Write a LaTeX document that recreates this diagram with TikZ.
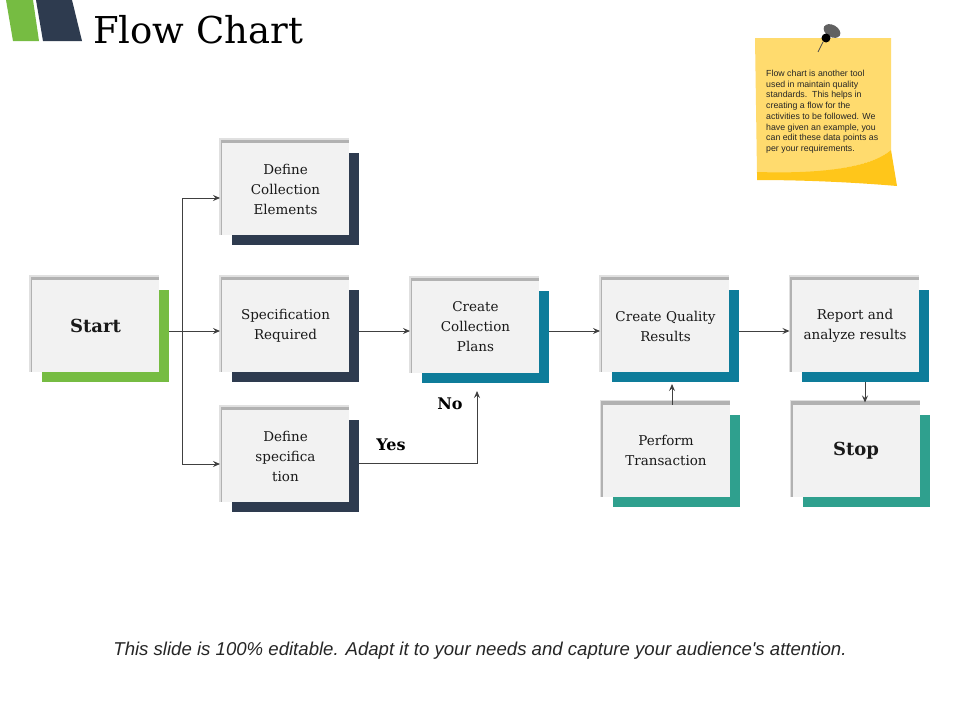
\documentclass[tikz,border=0pt]{standalone}
\usepackage{fontspec}
\setmainfont{DejaVu Serif}
\newfontfamily\sansf{Liberation Sans}
\usetikzlibrary{arrows.meta,backgrounds,calc}
\definecolor{navy}{HTML}{2E3B4F}
\definecolor{lgreen}{HTML}{76BC42}
\definecolor{tealb}{HTML}{0E7C9A}
\definecolor{seag}{HTML}{2FA08E}
\definecolor{cardbg}{HTML}{F2F2F2}
\definecolor{linec}{HTML}{404040}
\definecolor{noteY}{HTML}{FFDB6E}
\definecolor{noteD}{HTML}{FFC61A}
\begin{document}
\begin{tikzpicture}[x=1pt,y=-1pt,
 card/.style={fill=cardbg, minimum width=127pt, minimum height=92pt, inner sep=2pt, outer sep=0pt, align=center, font=\fontsize{13.5}{20}\selectfont, text=black!90},
 backcard/.style={minimum width=127pt, minimum height=92pt, inner sep=0pt, outer sep=0pt},
 conn/.style={draw=linec, line width=0.9pt},
 arr/.style={conn, -{Stealth[length=7pt,width=6pt,inset=2.5pt]}},
 lbl/.style={font=\fontsize{16}{18}\selectfont\bfseries, inner sep=0pt}]

\useasboundingbox (0,0) rectangle (960,720);

% logo
\fill[lgreen] (6,0) -- (33,0) -- (39,41) -- (13,41) -- cycle;
\fill[navy] (36,0) -- (72,0) -- (82,41) -- (43,41) -- cycle;
\node[anchor=base west, font=\fontsize{37}{40}\selectfont, inner sep=0pt] (title) at (93,43) {Flow Chart};

% cards
\node[card] (Start) at (95.5,326) {\fontsize{18}{20}\selectfont\bfseries Start};
\node[card] (DCE) at (285.5,189) {Define\\Collection\\Elements};
\node[card] (Spec) at (285.5,326) {Specification\\Required};
\node[card] (DefSpec) at (285.5,456) {Define\\specifica\\tion};
\node[card] (CCP) at (475.5,327) {Create\\Collection\\Plans};
\node[card] (CQR) at (665.5,326) {Create Quality\\Results};
\node[card] (Rep) at (855,326) {Report and\\analyze results};
\node[card] (PT) at (666,450.5) {Perform\\Transaction};
\node[card] (Stop) at (856,450.5) {\fontsize{18}{20}\selectfont\bfseries Stop};

\begin{pgfonlayer}{background}
\fill[white] (0,0) rectangle (960,720);
\foreach \n/\c in {Start/lgreen, DCE/navy, Spec/navy, DefSpec/navy, CCP/tealb, CQR/tealb, Rep/tealb, PT/seag, Stop/seag}{
  \node[backcard, fill=\c] (\n-b) at ([xshift=10pt,yshift=-10pt]\n.center) {};
  \fill[black!12] ([xshift=-3pt]\n.south west) rectangle ([yshift=5pt]\n.north east);
  \fill[black!30] ([xshift=-1.5pt]\n.south west) rectangle ([yshift=3.5pt]\n.north east);
}
\end{pgfonlayer}

% connectors
\coordinate (trunk) at (182,331);
\draw[conn] ([yshift=5pt]Start-b.east) -- (trunk);
\coordinate (dceIn) at ([yshift=-9pt]DCE.west);
\coordinate (specIn) at ([yshift=-5pt]Spec.west);
\coordinate (dsIn) at ([yshift=-8pt]DefSpec.west);
\draw[conn] (trunk |- dceIn) -- (trunk |- dsIn);
\draw[arr, shorten >=2pt] (trunk |- dceIn) -- (dceIn);
\draw[arr, shorten >=2pt] (trunk) -- (specIn);
\draw[arr, shorten >=2pt] (trunk |- dsIn) -- (dsIn);

\coordinate (s1) at ([yshift=5pt]Spec-b.east);
\draw[arr, shorten >=2pt] (s1) -- (s1 -| CCP.west);
\coordinate (c1) at ([yshift=6pt]CCP-b.east);
\draw[arr, shorten >=2pt] (c1) -- (c1 -| CQR.west);
\coordinate (q1) at ([yshift=5pt]CQR-b.east);
\draw[arr, shorten >=2pt] (q1) -- (q1 -| Rep.west);

\coordinate (y1) at ([yshift=3pt]DefSpec-b.east);
\coordinate (ccpx) at ([xshift=1.5pt]CCP.south);
\draw[arr, shorten >=8pt] (y1) -| (ccpx |- CCP-b.south);

\coordinate (pt1) at ([xshift=6pt]PT.north);
\draw[arr, shorten >=2pt] (pt1) -- (pt1 |- CQR-b.south);
\draw[arr, shorten >=2pt] (Rep-b.south) -- (Rep-b.south |- Stop.north);

\node[lbl] (no) at (450,404) {No};
\node[lbl] (yes) at (391,445) {Yes};

% sticky note
\fill[noteY] (755,38) -- (891,38) -- (891,150) .. controls (870,168) and (820,174) .. (757,174) -- cycle;
\fill[noteD] (757,172) .. controls (820,174) and (870,168) .. (891,150) -- (897,186) .. controls (850,182) and (800,180) .. (757,180) -- cycle;
\node[anchor=north west, align=left, inner sep=0pt, text=black!85, font=\sansf\fontsize{8.8}{10.7}\selectfont] (note) at (766,70) {Flow chart is another tool\\used in maintain quality\\standards.\ \ This helps in\\creating a flow for the\\activities to be followed. We\\have given an example, you\\can edit these data points as\\per your requirements.};
% pin
\fill[black!62, rotate around={-30:(832,31)}] (832,31) ellipse [x radius=9pt, y radius=6pt];
\draw[black!70, line width=0.8pt] (823,42) -- (818,52);
\fill[black] (826,38) circle[radius=4.5pt];

% footer
\node[font=\sansf\itshape\fontsize{18.6}{21}\selectfont, text=black!85] (foot) at (480,651) {This slide is 100\% editable. Adapt it to your needs and capture your audience's attention.};
\end{tikzpicture}
\end{document}
